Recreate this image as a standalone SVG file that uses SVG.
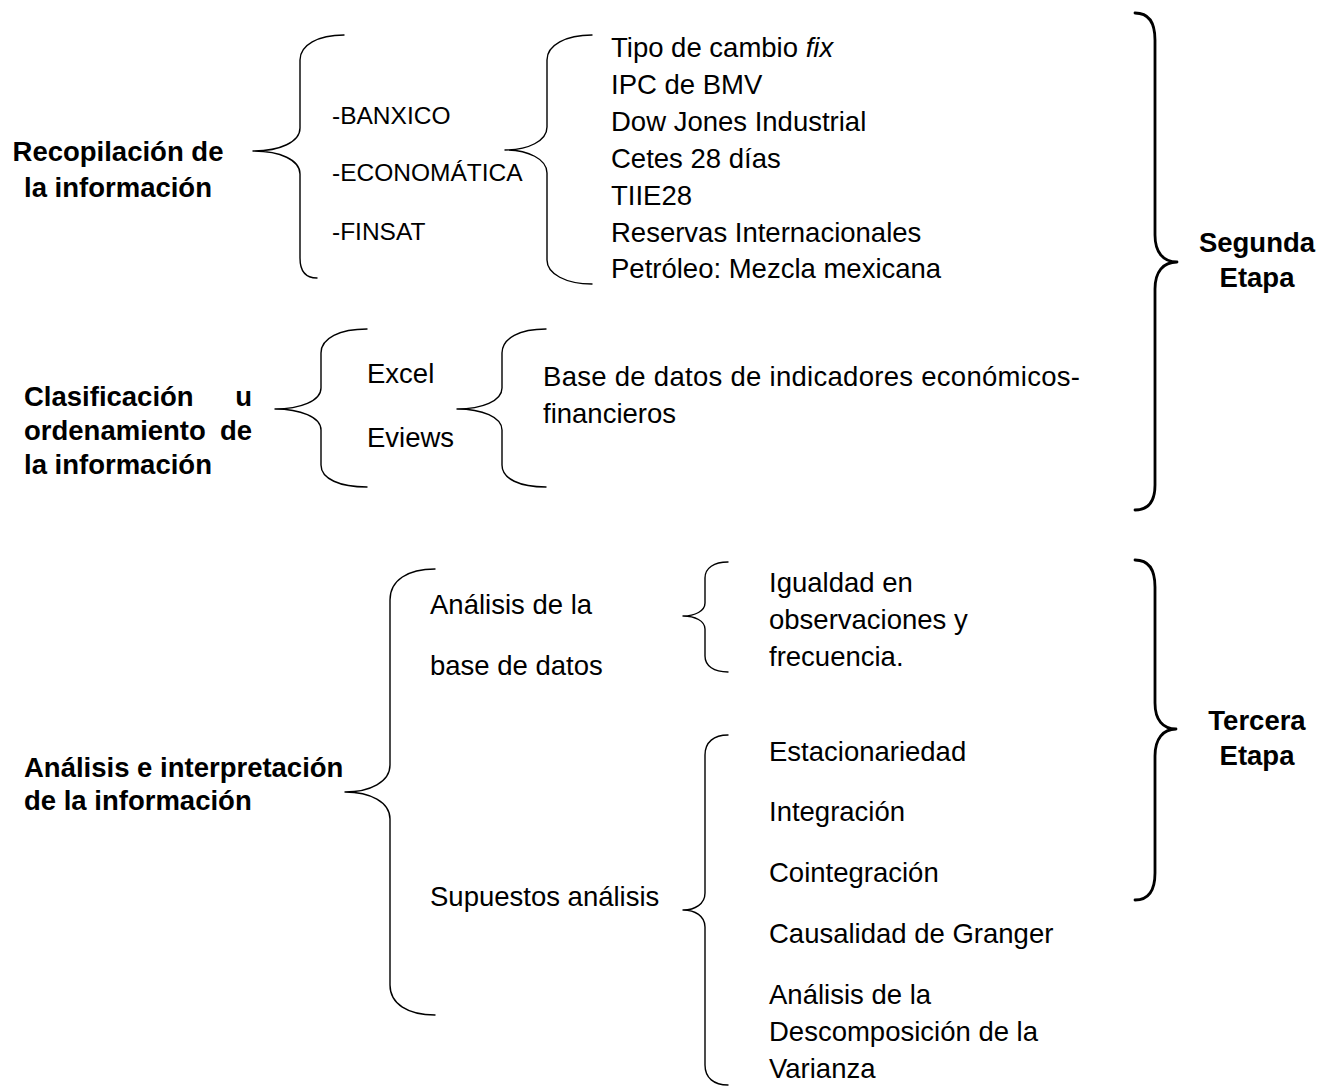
<svg xmlns="http://www.w3.org/2000/svg" width="1331" height="1088" viewBox="0 0 1331 1088">
<style>
  .t { font-family: "Liberation Sans", Arial, sans-serif; font-size: 27.5px; fill: #000; }
  .s { font-family: "Liberation Sans", Arial, sans-serif; font-size: 24.5px; fill: #000; }
  .b { font-family: "Liberation Sans", Arial, sans-serif; font-size: 27.5px; font-weight: bold; fill: #000; }
  .br { fill: none; stroke: #000; stroke-width: 1.4; stroke-linecap: round; stroke-linejoin: round; }
  .bb { fill: none; stroke: #000; stroke-width: 2.8; stroke-linecap: round; stroke-linejoin: round; }
</style>
<rect width="1331" height="1088" fill="#fff"/>
<g id="connectors">
  <path class="br" d="M344,35 C318,35 300,45 300,60 L300,128 C300,142 280,151 253,151 C280,151 300,160 300,174 L300,258 C300,270 305,278 317,278"/>
  <path class="br" d="M592,35 C566,35 547,45 547,60 L547,127 C547,141 528,150 505,150 C528,150 547,159 547,173 L547,260 C547,274 566,284 592,284"/>
  <path class="br" d="M367,329 C340,329 321,338 321,353 L321,388 C321,401 300,409 275,409 C300,409 321,417 321,430 L321,465 C321,479 340,487 367,487"/>
  <path class="br" d="M546,329 C520,329 502,338 502,353 L502,388 C502,401 482,409 457,409 C482,409 502,417 502,430 L502,465 C502,479 520,487 546,487"/>
  <path class="br" d="M435,569 C408,569 390,580 390,600 L390,765 C390,782 370,792 345,792 C370,792 390,802 390,819 L390,985 C390,1004 408,1015 435,1015"/>
  <path class="br" d="M728,562 C714,562 705,568 705,578 L705,603 C705,611 695,616 683,616 C695,616 705,621 705,629 L705,656 C705,666 714,672 728,672"/>
  <path class="br" d="M728,735 C714,735 705,742 705,755 L705,893 C705,904 695,910 683,910 C695,910 705,916 705,927 L705,1065 C705,1078 714,1085 728,1085"/>
  <path class="bb" d="M1135,13 C1148,13 1155,22 1155,40 L1155,235 C1155,252 1163,262 1177,262 C1163,262 1155,272 1155,289 L1155,485 C1155,502 1148,510 1135,510"/>
  <path class="bb" d="M1135,560 C1148,560 1155,569 1155,587 L1155,703 C1155,720 1163,729 1176,729 C1163,729 1155,739 1155,756 L1155,873 C1155,891 1148,900 1135,900"/>
</g>
<g id="recopilacion">
  <text class="b" x="118" y="161" text-anchor="middle">Recopilación de</text>
  <text class="b" x="118" y="197" text-anchor="middle">la información</text>
</g>
<g id="fuentes">
  <text class="s" x="332" y="124">-BANXICO</text>
  <text class="s" x="332" y="181">-ECONOMÁTICA</text>
  <text class="s" x="332" y="240">-FINSAT</text>
</g>
<g id="indicadores">
  <text class="t" x="611" y="57">Tipo de cambio <tspan font-style="italic">fix</tspan></text>
  <text class="t" x="611" y="94">IPC de BMV</text>
  <text class="t" x="611" y="131">Dow Jones Industrial</text>
  <text class="t" x="611" y="168">Cetes 28 días</text>
  <text class="t" x="611" y="205">TIIE28</text>
  <text class="t" x="611" y="242">Reservas Internacionales</text>
  <text class="t" x="611" y="278">Petróleo: Mezcla mexicana</text>
</g>
<g id="clasificacion">
  <text class="b" x="24" y="406">Clasificación</text>
  <text class="b" x="252" y="406" text-anchor="end">u</text>
  <text class="b" x="24" y="440">ordenamiento</text>
  <text class="b" x="252" y="440" text-anchor="end">de</text>
  <text class="b" x="24" y="474">la información</text>
</g>
<g id="software">
  <text class="t" x="367" y="383">Excel</text>
  <text class="t" x="367" y="447">Eviews</text>
</g>
<g id="base-datos">
  <text class="t" x="543" y="386" textLength="537" lengthAdjust="spacing">Base de datos de indicadores económicos-</text>
  <text class="t" x="543" y="423">financieros</text>
</g>
<g id="segunda-etapa">
  <text class="b" x="1257" y="252" text-anchor="middle">Segunda</text>
  <text class="b" x="1257" y="287" text-anchor="middle">Etapa</text>
</g>
<g id="analisis">
  <text class="b" x="24" y="777">Análisis e interpretación</text>
  <text class="b" x="24" y="810">de la información</text>
</g>
<g id="analisis-base">
  <text class="t" x="430" y="614">Análisis de la</text>
  <text class="t" x="430" y="675">base de datos</text>
</g>
<g id="supuestos">
  <text class="t" x="430" y="906">Supuestos análisis</text>
</g>
<g id="igualdad">
  <text class="t" x="769" y="592">Igualdad en</text>
  <text class="t" x="769" y="629">observaciones y</text>
  <text class="t" x="769" y="666">frecuencia.</text>
</g>
<g id="pruebas">
  <text class="t" x="769" y="761">Estacionariedad</text>
  <text class="t" x="769" y="821">Integración</text>
  <text class="t" x="769" y="882">Cointegración</text>
  <text class="t" x="769" y="943">Causalidad de Granger</text>
  <text class="t" x="769" y="1004">Análisis de la</text>
  <text class="t" x="769" y="1041">Descomposición de la</text>
  <text class="t" x="769" y="1078">Varianza</text>
</g>
<g id="tercera-etapa">
  <text class="b" x="1257" y="730" text-anchor="middle">Tercera</text>
  <text class="b" x="1257" y="765" text-anchor="middle">Etapa</text>
</g>
</svg>
